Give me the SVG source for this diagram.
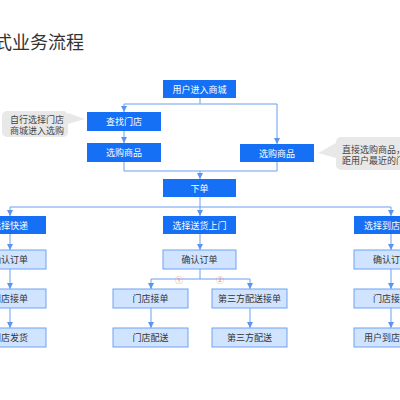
<svg xmlns="http://www.w3.org/2000/svg" width="400" height="400" viewBox="0 0 400 400">
<defs>
<marker id="arr" viewBox="0 0 6 6" refX="6" refY="3" markerWidth="6" markerHeight="6" markerUnits="userSpaceOnUse" orient="auto">
<path d="M0,0 L6,3 L0,6 z" fill="#5b95ee"/>
</marker>
<style>
text{font-family:"Noto Sans CJK SC","Liberation Sans",sans-serif;}
.p rect{fill:#1570f5;}
.p text{fill:#fff;font-size:9px;text-anchor:middle;dominant-baseline:central;}
.s rect{fill:#d0e3ff;stroke:#6ea3f3;stroke-width:1;}
.s text{fill:#333;font-size:9px;text-anchor:middle;dominant-baseline:central;}
.c path{fill:#e8e8e8;}
.c text{fill:#444;font-size:9px;dominant-baseline:central;}
#edges path{fill:none;stroke:#6aa0f0;stroke-width:1;}
#edges path.a{marker-end:url(#arr);}
.num{fill:#f07a7a;font-size:8px;text-anchor:middle;dominant-baseline:central;}
</style>
</defs>
<rect width="400" height="400" fill="#fff"/>
<text x="-6" y="49" font-size="18" fill="#333">式业务流程</text>

<g id="edges">
<path d="M200,98 V104 M124,104 H277"/>
<path class="a" d="M124,104 V112"/>
<path class="a" d="M277,104 V144"/>
<path class="a" d="M124,131 V143"/>
<path d="M124,162 V171 H277 M277,162 V171"/>
<path class="a" d="M200,171 V179"/>
<path d="M200,197 V207 M10,207 H391"/>
<path class="a" d="M10,207 V216"/>
<path class="a" d="M200,207 V216"/>
<path class="a" d="M391,207 V216"/>
<path class="a" d="M10,234 V250"/>
<path class="a" d="M200,234 V250"/>
<path class="a" d="M391,234 V250"/>
<path class="a" d="M10,269 V289"/>
<path class="a" d="M391,269 V289"/>
<path class="a" d="M10,308 V328"/>
<path class="a" d="M391,308 V328"/>
<path d="M200,269 V279 M151,279 H250"/>
<path class="a" d="M151,279 V289"/>
<path class="a" d="M250,279 V289"/>
<path class="a" d="M151,308 V328"/>
<path class="a" d="M250,308 V328"/>
</g>
<text class="num" x="179" y="279">①</text>
<text class="num" x="220" y="279">②</text>

<g id="n-enter" class="p"><rect x="163" y="80" width="73" height="18"/><text x="199.5" y="89">用户进入商城</text></g>
<g id="n-find" class="p"><rect x="87" y="112" width="74" height="19"/><text x="124" y="121.5">查找门店</text></g>
<g id="n-buy1" class="p"><rect x="87" y="143" width="74" height="19"/><text x="124" y="152.5">选购商品</text></g>
<g id="n-buy2" class="p"><rect x="240" y="144" width="74" height="18"/><text x="277" y="153">选购商品</text></g>
<g id="n-order" class="p"><rect x="163" y="179" width="73" height="18"/><text x="199.5" y="188">下单</text></g>

<g id="c-left" class="c"><path d="M7,111 H63 A5,5 0 0 1 68,116 V113 L85,119 L68,124 V132 A5,5 0 0 1 63,137 H7 A5,5 0 0 1 2,132 V116 A5,5 0 0 1 7,111 Z"/><text x="37" y="119" text-anchor="middle">自行选择门店</text><text x="37" y="130" text-anchor="middle">商城进入选购</text></g>
<g id="c-right" class="c"><path d="M341,137 H410 V170 H341 A5,5 0 0 1 336,165 V158 L318,153 L336,143 V142 A5,5 0 0 1 341,137 Z"/><text x="342" y="149">直接选购商品，</text><text x="342" y="160">距用户最近的门</text></g>

<g id="n-express" class="p"><rect x="-27" y="216" width="73" height="18"/><text x="10" y="225">选择快递</text></g>
<g id="n-home" class="p"><rect x="163" y="216" width="73" height="18"/><text x="199.5" y="225">选择送货上门</text></g>
<g id="n-store" class="p"><rect x="354" y="216" width="74" height="18"/><text x="364" y="225" style="text-anchor:start">选择到店</text></g>

<g id="n-conf1" class="s"><rect x="-27" y="250" width="73" height="19"/><text x="10" y="259.5">确认订单</text></g>
<g id="n-conf2" class="s"><rect x="163" y="250" width="73" height="19"/><text x="199.5" y="259.5">确认订单</text></g>
<g id="n-conf3" class="s"><rect x="354" y="250" width="74" height="19"/><text x="391" y="259.5">确认订单</text></g>

<g id="n-rec1" class="s"><rect x="-27" y="289" width="73" height="19"/><text x="10" y="298.5">门店接单</text></g>
<g id="n-rec2" class="s"><rect x="113" y="289" width="75" height="19"/><text x="150.5" y="298.5">门店接单</text></g>
<g id="n-rec3" class="s"><rect x="212" y="289" width="75" height="19"/><text x="249.5" y="298.5">第三方配送接单</text></g>
<g id="n-rec4" class="s"><rect x="354" y="289" width="74" height="19"/><text x="391" y="298.5">门店接单</text></g>

<g id="n-ship" class="s"><rect x="-27" y="328" width="73" height="19"/><text x="10" y="337.5">门店发货</text></g>
<g id="n-deliv" class="s"><rect x="113" y="328" width="75" height="19"/><text x="150.5" y="337.5">门店配送</text></g>
<g id="n-third" class="s"><rect x="212" y="328" width="75" height="19"/><text x="249.5" y="337.5">第三方配送</text></g>
<g id="n-pick" class="s"><rect x="354" y="328" width="74" height="19"/><text x="364" y="337.5" style="text-anchor:start">用户到店</text></g>
</svg>
